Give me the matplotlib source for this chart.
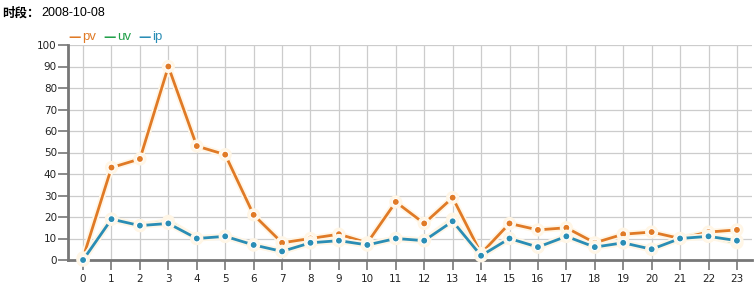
import matplotlib.pyplot as plt
import matplotlib.patheffects as pe

hours = list(range(24))
pv = [1, 43, 47, 90, 53, 49, 21, 8, 10, 12, 8, 27, 17, 29, 3, 17, 14, 15, 8, 12, 13, 10, 13, 14]
uv = [0, 19, 16, 18, 10, 11, 7, 4, 8, 9, 7, 10, 9, 19, 2, 10, 6, 11, 6, 8, 5, 10, 11, 8]
ip = [0, 19, 16, 17, 10, 11, 7, 4, 8, 9, 7, 10, 9, 18, 2, 10, 6, 11, 6, 8, 5, 10, 11, 9]
series = [('pv', pv, '#e07a26'), ('uv', uv, '#22a04a'), ('ip', ip, '#2a8db5')]

plt.rcParams['font.family'] = ['DejaVu Sans', 'Noto Sans CJK SC']

fig = plt.figure(figsize=(7.55, 2.85), dpi=100)
ax = fig.add_axes([68 / 755, 25 / 285, 684 / 755, 215 / 285])

glow = [pe.Stroke(linewidth=4.5, foreground='#fff6e6'), pe.Normal()]
for name, vals, col in series:
    ax.plot(hours, vals, color=col, lw=2, marker='o', ms=5,
            mec='white', mew=0.8, path_effects=glow, zorder=3, clip_on=False)

ax.set_xlim(-0.53, 23.53)
ax.set_ylim(0, 100)
ax.set_xticks(hours)
ax.set_yticks(range(0, 101, 10))
ax.grid(True, color='#cccccc', lw=0.9)
ax.set_axisbelow(True)
for s in ['top', 'right']:
    ax.spines[s].set_visible(False)
for s in ['left', 'bottom']:
    ax.spines[s].set_color('#777777')
    ax.spines[s].set_linewidth(2)
ax.tick_params(axis='both', length=7, width=1.2, color='#777777',
               labelsize=7.5, labelcolor='#222222', pad=3)
ax.tick_params(axis='y', pad=1)

# title
fig.text(0.003, 0.955, '时段：', fontsize=9, fontweight='bold', va='center', ha='left',
         family=['Noto Sans CJK SC'])
fig.text(0.055, 0.955, '2008-10-08', fontsize=9, va='center', ha='left',
         family=['Liberation Sans'])

# legend
x0 = 68
for name, vals, col in series:
    fig.text(x0 / 755, 0.87, '—', color=col, fontsize=9, fontweight='bold',
             va='center', ha='left')
    fig.text((x0 + 14) / 755, 0.87, name, color=col, fontsize=9.5,
             va='center', ha='left', family=['Liberation Sans'])
    x0 += 35

fig.savefig('out.png', dpi=100)
